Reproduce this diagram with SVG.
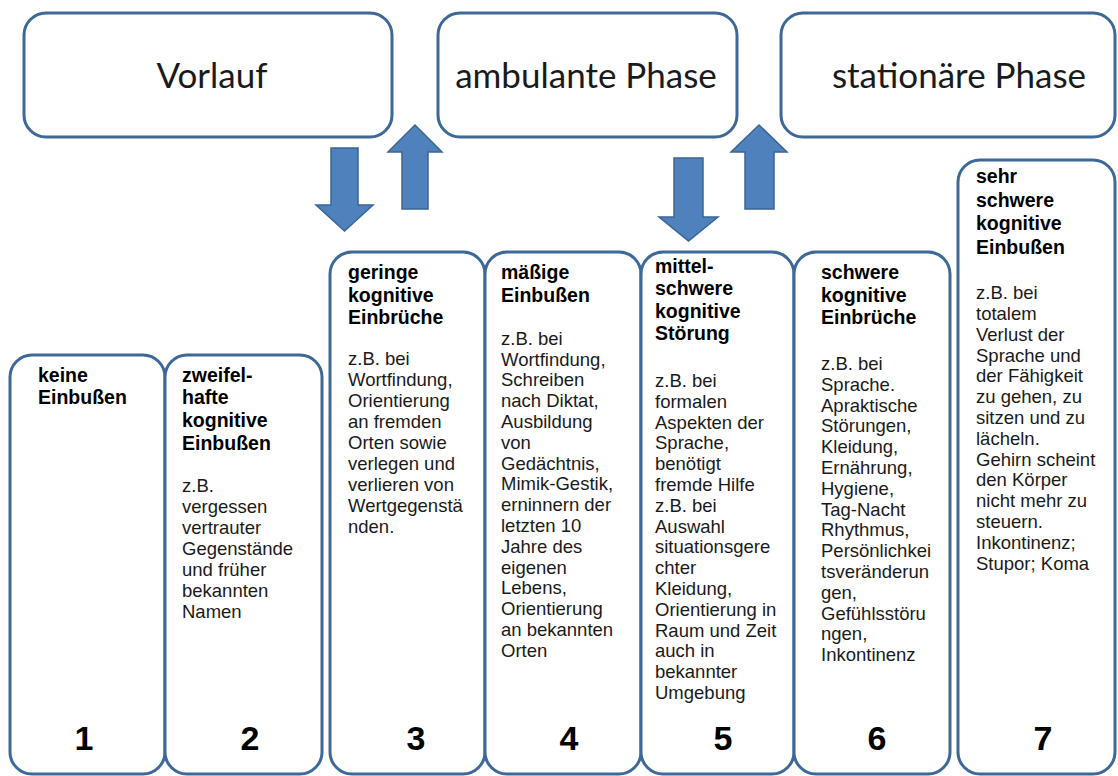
<svg xmlns="http://www.w3.org/2000/svg" width="1118" height="776" viewBox="0 0 1118 776">
<style>
.box{fill:#fff;stroke:#3d6898;stroke-width:3}
.head{font-family:"Lato","Liberation Sans",sans-serif;font-size:35px;fill:#1a1a1a;text-anchor:middle}
.t{font-family:"Liberation Sans",Arial,sans-serif;font-size:19.5px;font-weight:bold;fill:#000}
.b{font-family:"Liberation Sans",Arial,sans-serif;font-size:18.5px;fill:#1a1a1a}
.n{font-family:"Liberation Sans",Arial,sans-serif;font-size:34px;font-weight:bold;fill:#000;text-anchor:middle}
.arr{fill:#4f81bd;stroke:#3a6595;stroke-width:1.5}
</style>
<rect width="1118" height="776" fill="#fff"/>
<g id="vorlauf"><rect class="box" x="24" y="13" width="368" height="124" rx="22"/><text class="head" x="212" y="88">Vorlauf</text></g>
<g id="ambulant"><rect class="box" x="438" y="13" width="299" height="124" rx="22"/><text class="head" x="586" y="88">ambulante Phase</text></g>
<g id="stationaer"><rect class="box" x="781" y="13" width="334" height="124" rx="22"/><text class="head" x="959" y="88">stationäre Phase</text></g>
<g id="connectors">
<polygon class="arr" points="331,148 358,148 358,205 373,205 344.5,231 316,205 331,205"/>
<polygon class="arr" points="415,125 442,152 428,152 428,209 402,209 402,152 388,152"/>
<polygon class="arr" points="674,158 703,158 703,217 718,217 688.5,241 659,217 674,217"/>
<polygon class="arr" points="759,125 787,152 774,152 774,209 745,209 745,152 731,152"/>
</g>
<g id="col1"><rect class="box" x="10" y="355" width="155" height="419" rx="22"/>
<text class="t" x="38"><tspan x="38" y="382">keine</tspan><tspan x="38" y="404">Einbußen</tspan></text>
<text class="n" x="84" y="750">1</text></g>
<g id="col2"><rect class="box" x="165" y="355" width="157" height="419" rx="22"/>
<text class="t"><tspan x="182" y="382">zweifel-</tspan><tspan x="182" y="404">hafte</tspan><tspan x="182" y="427">kognitive</tspan><tspan x="182" y="450">Einbußen</tspan></text>
<text class="b"><tspan x="182" y="492">z.B.</tspan><tspan x="182" y="513">vergessen</tspan><tspan x="182" y="534">vertrauter</tspan><tspan x="182" y="555">Gegenstände</tspan><tspan x="182" y="576">und früher</tspan><tspan x="182" y="597">bekannten</tspan><tspan x="182" y="618">Namen</tspan></text>
<text class="n" x="250" y="750">2</text></g>
<g id="col3"><rect class="box" x="330" y="252" width="155" height="522" rx="22"/>
<text class="t"><tspan x="348" y="279">geringe</tspan><tspan x="348" y="302">kognitive</tspan><tspan x="348" y="324">Einbrüche</tspan></text>
<text class="b"><tspan x="348" y="365">z.B. bei</tspan><tspan x="348" y="386">Wortfindung,</tspan><tspan x="348" y="407">Orientierung</tspan><tspan x="348" y="428">an fremden</tspan><tspan x="348" y="449">Orten sowie</tspan><tspan x="348" y="470">verlegen und</tspan><tspan x="348" y="491">verlieren von</tspan><tspan x="348" y="512">Wertgegenstä</tspan><tspan x="348" y="533">nden.</tspan></text>
<text class="n" x="416" y="750">3</text></g>
<g id="col4"><rect class="box" x="485" y="252" width="156" height="522" rx="22"/>
<text class="t"><tspan x="501" y="279">mäßige</tspan><tspan x="501" y="302">Einbußen</tspan></text>
<text class="b"><tspan x="501" y="345">z.B. bei</tspan><tspan x="501" y="366">Wortfindung,</tspan><tspan x="501" y="386">Schreiben</tspan><tspan x="501" y="407">nach Diktat,</tspan><tspan x="501" y="428">Ausbildung</tspan><tspan x="501" y="449">von</tspan><tspan x="501" y="470">Gedächtnis,</tspan><tspan x="501" y="490">Mimik-Gestik,</tspan><tspan x="501" y="511">erninnern der</tspan><tspan x="501" y="532">letzten 10</tspan><tspan x="501" y="553">Jahre des</tspan><tspan x="501" y="574">eigenen</tspan><tspan x="501" y="594">Lebens,</tspan><tspan x="501" y="615">Orientierung</tspan><tspan x="501" y="636">an bekannten</tspan><tspan x="501" y="657">Orten</tspan></text>
<text class="n" x="569" y="750">4</text></g>
<g id="col5"><rect class="box" x="641" y="252" width="153" height="522" rx="22"/>
<text class="t"><tspan x="655" y="273">mittel-</tspan><tspan x="655" y="295">schwere</tspan><tspan x="655" y="318">kognitive</tspan><tspan x="655" y="340">Störung</tspan></text>
<text class="b"><tspan x="655" y="387">z.B. bei</tspan><tspan x="655" y="408">formalen</tspan><tspan x="655" y="429">Aspekten der</tspan><tspan x="655" y="449">Sprache,</tspan><tspan x="655" y="470">benötigt</tspan><tspan x="655" y="491">fremde Hilfe</tspan><tspan x="655" y="512">z.B. bei</tspan><tspan x="655" y="533">Auswahl</tspan><tspan x="655" y="553">situationsgere</tspan><tspan x="655" y="574">chter</tspan><tspan x="655" y="595">Kleidung,</tspan><tspan x="655" y="616">Orientierung in</tspan><tspan x="655" y="637">Raum und Zeit</tspan><tspan x="655" y="657">auch in</tspan><tspan x="655" y="678">bekannter</tspan><tspan x="655" y="699">Umgebung</tspan></text>
<text class="n" x="723" y="750">5</text></g>
<g id="col6"><rect class="box" x="794" y="252" width="156" height="522" rx="22"/>
<text class="t"><tspan x="821" y="279">schwere</tspan><tspan x="821" y="302">kognitive</tspan><tspan x="821" y="324">Einbrüche</tspan></text>
<text class="b"><tspan x="821" y="370">z.B. bei</tspan><tspan x="821" y="391">Sprache.</tspan><tspan x="821" y="412">Apraktische</tspan><tspan x="821" y="432">Störungen,</tspan><tspan x="821" y="453">Kleidung,</tspan><tspan x="821" y="474">Ernährung,</tspan><tspan x="821" y="495">Hygiene,</tspan><tspan x="821" y="516">Tag-Nacht</tspan><tspan x="821" y="536">Rhythmus,</tspan><tspan x="821" y="557">Persönlichkei</tspan><tspan x="821" y="578">tsveränderun</tspan><tspan x="821" y="599">gen,</tspan><tspan x="821" y="620">Gefühlsstöru</tspan><tspan x="821" y="640">ngen,</tspan><tspan x="821" y="661">Inkontinenz</tspan></text>
<text class="n" x="877" y="750">6</text></g>
<g id="col7"><rect class="box" x="958" y="160" width="157" height="614" rx="22"/>
<text class="t"><tspan x="976" y="183">sehr</tspan><tspan x="976" y="207">schwere</tspan><tspan x="976" y="230">kognitive</tspan><tspan x="976" y="254">Einbußen</tspan></text>
<text class="b"><tspan x="976" y="299">z.B. bei</tspan><tspan x="976" y="320">totalem</tspan><tspan x="976" y="341">Verlust der</tspan><tspan x="976" y="362">Sprache und</tspan><tspan x="976" y="382">der Fähigkeit</tspan><tspan x="976" y="403">zu gehen, zu</tspan><tspan x="976" y="424">sitzen und zu</tspan><tspan x="976" y="445">lächeln.</tspan><tspan x="976" y="466">Gehirn scheint</tspan><tspan x="976" y="486">den Körper</tspan><tspan x="976" y="507">nicht mehr zu</tspan><tspan x="976" y="528">steuern.</tspan><tspan x="976" y="549">Inkontinenz;</tspan><tspan x="976" y="570">Stupor; Koma</tspan></text>
<text class="n" x="1043" y="750">7</text></g>
</svg>
